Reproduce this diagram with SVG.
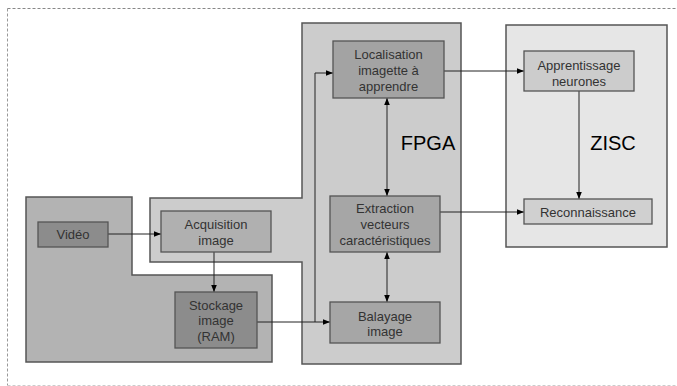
<svg xmlns="http://www.w3.org/2000/svg" width="677" height="386" viewBox="0 0 677 386">
<defs>
<marker id="ah" viewBox="0 0 10 10" refX="10" refY="5" markerWidth="7" markerHeight="7" markerUnits="userSpaceOnUse" orient="auto-start-reverse">
<path d="M0,1 L10,5 L0,9 z" fill="#000"/>
</marker>
<style>
.reg{stroke:#555;stroke-width:1.5}
.box{stroke:#555;stroke-width:1.3}
.t{font-family:"Liberation Sans",Arial,sans-serif;font-size:13px;fill:#333;text-anchor:middle}
.big{font-family:"Liberation Sans",Arial,sans-serif;font-size:20px;fill:#000;text-anchor:middle}
.c{fill:none;stroke:#222;stroke-width:1}
.dash{fill:none;stroke-dasharray:3,2;stroke-width:1}
</style>
</defs>
<rect width="677" height="386" fill="#fff"/>
<line class="dash" x1="7.5" y1="8.5" x2="677" y2="8.5" stroke="#888"/>
<line class="dash" x1="7.5" y1="8.5" x2="7.5" y2="385.5" stroke="#999"/>
<line class="dash" x1="7.5" y1="385.5" x2="677" y2="385.5" stroke="#ccc"/>
<g id="region-left"><path class="reg" d="M26,197 H132 V275 H272 V362 H26 Z" fill="#b3b3b3"/></g>
<g id="region-fpga"><path class="reg" d="M302,23 H461 V364 H302 V262 H150 V198 H302 Z" fill="#cccccc"/>
<text class="big" x="428" y="150">FPGA</text></g>
<g id="region-zisc"><rect class="reg" x="506" y="25" width="161" height="222" fill="#e6e6e6"/>
<text class="big" x="613" y="150">ZISC</text></g>
<g id="connectors">
<line class="c" x1="108" y1="234" x2="161" y2="234" marker-end="url(#ah)"/>
<line class="c" x1="214" y1="252" x2="214" y2="292" marker-end="url(#ah)"/>
<line class="c" x1="257" y1="322" x2="330" y2="322" marker-end="url(#ah)"/>
<polyline class="c" points="315,322 315,73 333,73" marker-end="url(#ah)"/>
<line class="c" x1="387" y1="98" x2="387" y2="196" marker-start="url(#ah)" marker-end="url(#ah)"/>
<line class="c" x1="387" y1="252" x2="387" y2="302" marker-start="url(#ah)" marker-end="url(#ah)"/>
<line class="c" x1="444" y1="71" x2="524" y2="71" marker-end="url(#ah)"/>
<line class="c" x1="579" y1="91" x2="579" y2="199" marker-end="url(#ah)"/>
<line class="c" x1="440" y1="212" x2="524" y2="212" marker-end="url(#ah)"/>
</g>
<g id="video"><rect class="box" x="38" y="222" width="70" height="25" fill="#8c8c8c"/>
<text class="t" x="73" y="239">Vidéo</text></g>
<g id="acquisition"><rect class="box" x="161" y="211" width="110" height="41" fill="#b0b0b0"/>
<text class="t" x="216" y="228.5">Acquisition</text><text class="t" x="216" y="244.5">image</text></g>
<g id="stockage"><rect class="box" x="175" y="292" width="82" height="56" fill="#8c8c8c"/>
<text class="t" x="216" y="309.5">Stockage</text><text class="t" x="216" y="325">image</text><text class="t" x="216" y="340.5">(RAM)</text></g>
<g id="localisation"><rect class="box" x="333" y="41" width="111" height="57" fill="#a3a3a3"/>
<text class="t" x="388.5" y="58.5">Localisation</text><text class="t" x="388.5" y="75">imagette à</text><text class="t" x="388.5" y="90.5">apprendre</text></g>
<g id="extraction"><rect class="box" x="330" y="196" width="110" height="56" fill="#a6a6a6"/>
<text class="t" x="385" y="212.5">Extraction</text><text class="t" x="385" y="228.5">vecteurs</text><text class="t" x="385" y="244.5">caractéristiques</text></g>
<g id="balayage"><rect class="box" x="330" y="302" width="110" height="41" fill="#a6a6a6"/>
<text class="t" x="385" y="320.5">Balayage</text><text class="t" x="385" y="335.5">image</text></g>
<g id="apprentissage"><rect class="box" x="524" y="51" width="110" height="40" fill="#cccccc"/>
<text class="t" x="579" y="69.5">Apprentissage</text><text class="t" x="579" y="85.5">neurones</text></g>
<g id="reconnaissance"><rect class="box" x="524" y="199" width="128" height="25" fill="#d0d0d0"/>
<text class="t" x="588" y="216.5">Reconnaissance</text></g>
</svg>
